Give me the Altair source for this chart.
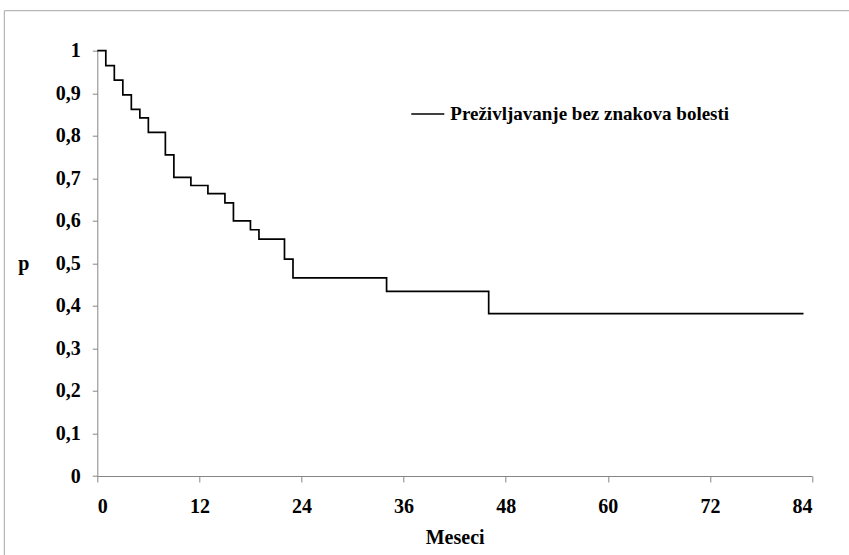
import altair as alt
import pandas as pd

# Kaplan-Meier style step curve
months = [0, 1, 2, 3, 4, 5, 6, 8, 9, 11, 13, 15, 16, 18, 19, 22, 23, 34, 46, 83]
survival = [1.0, 0.965, 0.931, 0.896, 0.862, 0.842, 0.808, 0.755, 0.702, 0.683,
            0.664, 0.642, 0.600, 0.579, 0.557, 0.510, 0.466, 0.434, 0.382, 0.382]
series_name = "Preživljavanje bez znakova bolesti"
x_ticks = [0, 12, 24, 36, 48, 60, 72, 84]
y_ticks = [0, 0.1, 0.2, 0.3, 0.4, 0.5, 0.6, 0.7, 0.8, 0.9, 1]
x_title = "Meseci"
y_title = "p"

df = pd.DataFrame({"Meseci": months, "p": survival, "serija": [series_name] * len(months)})

FONT = "Liberation Serif"
PLOT_W = 714.7
PLOT_H = 425.3
LEFT = 97.3
TOP = 50.7

line = alt.Chart(df).mark_line(interpolate="step-after", strokeWidth=1.7).encode(
    x=alt.X("Meseci:Q",
            scale=alt.Scale(domain=[0, 84], nice=False, zero=False),
            axis=alt.Axis(values=x_ticks, tickSize=6, labelPadding=14, title=x_title,
                          titleY=61, titleBaseline="middle", titleFontSize=20)),
    y=alt.Y("p:Q",
            scale=alt.Scale(domain=[0, 1], nice=False),
            axis=alt.Axis(values=y_ticks, tickSize=5, labelPadding=12,
                          labelExpr="replace(format(datum.value, '~g'), '.', ',')",
                          title=y_title, titleAngle=0, titleX=-74, titleY=PLOT_H / 2,
                          titleAlign="center", titleBaseline="middle", titleFontSize=20)),
    color=alt.Color("serija:N", scale=alt.Scale(range=["#000000"]),
                    legend=alt.Legend(title=None, orient="none", legendX=313, legendY=45.8,
                                      symbolType="stroke", symbolSize=1089,
                                      symbolStrokeWidth=1.5, labelFont=FONT,
                                      labelFontWeight="bold", labelFontSize=19,
                                      labelColor="black", labelOffset=5, padding=0,
                                      labelLimit=600)),
)

frame_df = pd.DataFrame({"k": [0]})
frame_left = alt.Chart(frame_df).mark_rule(color="#a6a6a6", strokeWidth=1).encode(
    x=alt.value(4.3 - LEFT), y=alt.value(10.7 - TOP), y2=alt.value(700)
)
frame_top = alt.Chart(frame_df).mark_rule(color="#a6a6a6", strokeWidth=1).encode(
    x=alt.value(4.3 - LEFT), x2=alt.value(1000), y=alt.value(10.7 - TOP)
)

chart = alt.layer(frame_left, frame_top, line).properties(
    width=PLOT_W, height=PLOT_H,
    padding={"left": LEFT, "top": TOP, "right": 849 - LEFT - PLOT_W, "bottom": 555 - TOP - PLOT_H},
    autosize=alt.AutoSizeParams(type="none"),
    background="white",
).configure_axis(
    labelFont=FONT, labelFontWeight="bold", labelFontSize=20, labelColor="black",
    titleFont=FONT, titleFontWeight="bold", titleColor="black",
    domainColor="#868686", tickColor="#868686", domainWidth=1, tickWidth=1, grid=False,
).configure_view(stroke=None)

chart.save("out.html", embed_options={"renderer": "svg", "actions": False})
